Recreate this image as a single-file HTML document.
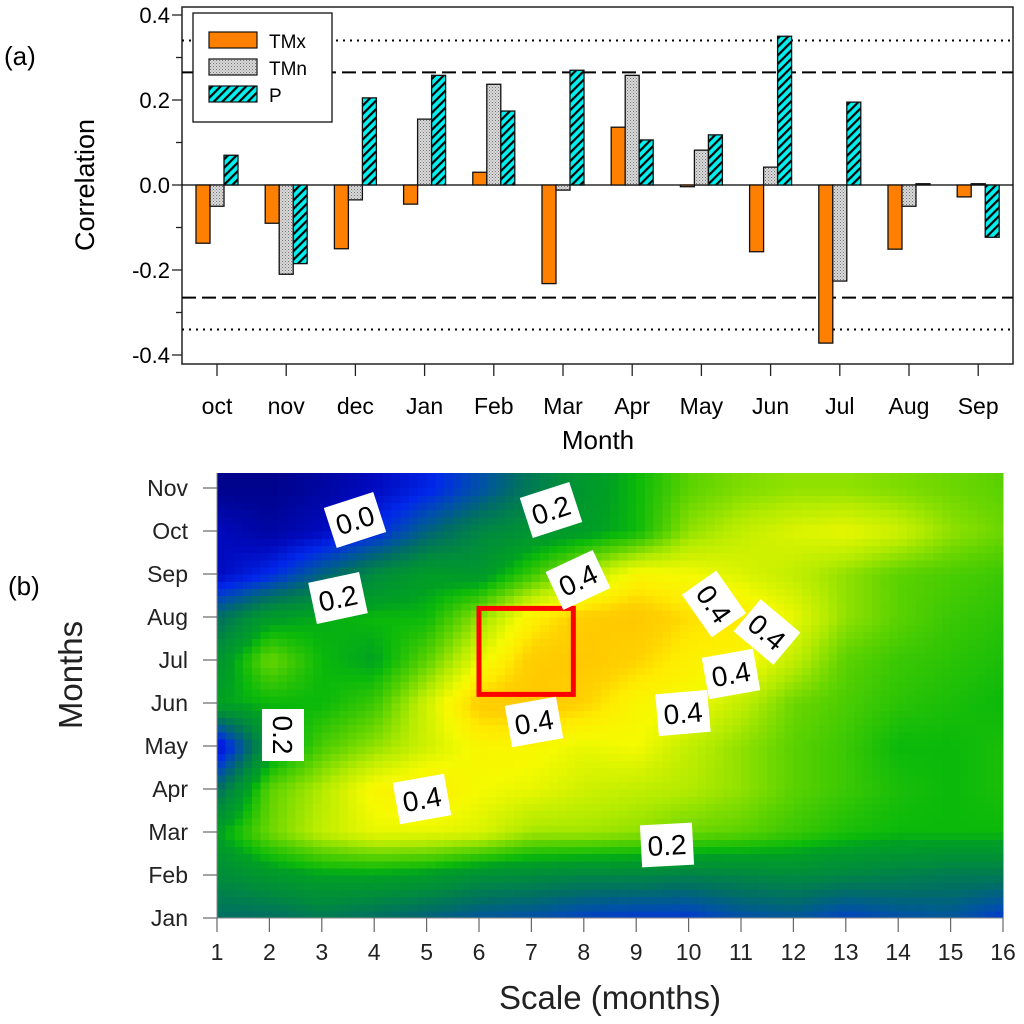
<!DOCTYPE html>
<html><head><meta charset="utf-8"><style>
html,body{margin:0;padding:0;background:#fff;}
svg{display:block;font-family:"Liberation Sans",Arial,sans-serif;}
</style></head><body>
<svg id="chart" width="1024" height="1024" viewBox="0 0 1024 1024">
<defs>
<pattern id="dots" width="3" height="3" patternUnits="userSpaceOnUse"><rect width="3" height="3" fill="#d8d8d8"/><rect width="1" height="1" fill="#777"/><rect x="1.5" y="1.5" width="1" height="1" fill="#999"/></pattern>
<pattern id="hatch" width="6" height="6" patternUnits="userSpaceOnUse" patternTransform="rotate(45)"><rect width="6" height="6" fill="#00f0f0"/><rect width="2.2" height="6" fill="#000"/></pattern>
</defs>
<g id="topChart"></g>
<g id="bottomChart"></g>
</svg>
<script>
const months = ["oct","nov","dec","Jan","Feb","Mar","Apr","May","Jun","Jul","Aug","Sep"];
const tmx = [-0.137,-0.09,-0.15,-0.045,0.03,-0.232,0.136,-0.004,-0.157,-0.372,-0.151,-0.028];
const tmn = [-0.05,-0.21,-0.035,0.155,0.237,-0.012,0.258,0.082,0.042,-0.226,-0.05,0.003];
const prc = [0.07,-0.185,0.205,0.258,0.174,0.27,0.106,0.118,0.35,0.195,0.003,-0.123];
const yTicks = [0.4,0.2,0.0,-0.2,-0.4];
const yTickLabels = ["0.4","0.2","0.0","-0.2","-0.4"];
const dashLevel = 0.265;
const dotLevel = 0.34;

const hmScales = [1,2,3,4,5,6,7,8,9,10,11,12,13,14,15,16];
const hmMonths = ["Jan","Feb","Mar","Apr","May","Jun","Jul","Aug","Sep","Oct","Nov"];
const hmJan = [0.1,0.1,0.12,0.1,0.08,0.06,0.05,0.03,0.02,0.02,0.05,0.06,0.03,0.05,0.06,0.02];
const hmFeb = [0.15,0.18,0.2,0.2,0.19,0.16,0.15,0.14,0.14,0.13,0.14,0.15,0.14,0.13,0.12,0.12];
const hmMar = [0.2,0.28,0.33,0.36,0.36,0.35,0.31,0.31,0.3,0.28,0.27,0.25,0.23,0.22,0.22,0.22];
const hmApr = [0.1,0.27,0.32,0.38,0.4,0.37,0.36,0.34,0.33,0.32,0.3,0.27,0.25,0.23,0.22,0.23];
const hmMay = [-0.05,0.18,0.26,0.3,0.34,0.38,0.38,0.36,0.37,0.33,0.3,0.27,0.25,0.22,0.22,0.23];
const hmJun = [0.2,0.22,0.22,0.25,0.34,0.43,0.44,0.42,0.38,0.37,0.33,0.28,0.26,0.24,0.23,0.22];
const hmJul = [0.17,0.28,0.22,0.2,0.27,0.36,0.43,0.44,0.42,0.39,0.38,0.33,0.27,0.25,0.24,0.23];
const hmAug = [0.1,0.19,0.21,0.22,0.22,0.3,0.39,0.43,0.44,0.41,0.4,0.36,0.3,0.27,0.25,0.24];
const hmSep = [-0.05,0.0,0.08,0.15,0.19,0.18,0.25,0.32,0.38,0.37,0.35,0.33,0.3,0.27,0.26,0.25];
const hmOct = [-0.05,-0.08,-0.05,0.0,0.08,0.14,0.17,0.19,0.22,0.3,0.33,0.35,0.36,0.34,0.3,0.28];
const hmNov = [-0.1,-0.1,-0.08,-0.05,-0.01,0.05,0.12,0.18,0.22,0.27,0.29,0.3,0.3,0.29,0.28,0.27];
const boxScale = [6,7.8];
const boxMonth = [5.2,7.2];

const NS="http://www.w3.org/2000/svg";
function mk(p,tag,attrs,txt){const e=document.createElementNS(NS,tag);for(const k in attrs)e.setAttribute(k,attrs[k]);if(txt!==undefined)e.textContent=txt;p.appendChild(e);return e;}

// ---- top chart
const topG=document.getElementById('topChart');
const L=182,R=1013,T=7,B=364;
const yA=v=>185-v*425;
const xA=i=>217+i*69.2;
const bw=14;
let e;
e=mk(topG,'rect',{x:L,y:T,width:R-L,height:B-T,fill:'#fff',stroke:'#222','stroke-width':1.5});


[dashLevel,-dashLevel].forEach(v=>{e=mk(topG,'line',{x1:L,x2:R,y1:yA(v),y2:yA(v),stroke:'#000','stroke-width':2,'stroke-dasharray':'14,6'});

});
[dotLevel,-dotLevel].forEach(v=>{e=mk(topG,'line',{x1:L,x2:R,y1:yA(v),y2:yA(v),stroke:'#000','stroke-width':2,'stroke-dasharray':'2,5'});

});
e=mk(topG,'line',{x1:L,x2:R,y1:yA(0),y2:yA(0),stroke:'#000','stroke-width':1.2});


const series=[[tmx,'#ff8000',-21,'tmx'],[tmn,'url(#dots)',-7,'tmn'],[prc,'url(#hatch)',7,'p']];
series.forEach(s=>{s[0].forEach((v,i)=>{const y0=yA(0),y1=yA(v);
e=mk(topG,'rect',{x:xA(i)+s[2],y:Math.min(y0,y1),width:bw,height:Math.max(1,Math.abs(y1-y0)),fill:s[1],stroke:'#111','stroke-width':1.3});

});});
yTicks.forEach((v,i)=>{mk(topG,'line',{x1:L-10,x2:L,y1:yA(v),y2:yA(v),stroke:'#222','stroke-width':1.3});
e=mk(topG,'text',{x:L-12,y:yA(v)+8,'text-anchor':'end','font-size':22},yTickLabels[i]);

});
[0.3,0.1,-0.1,-0.3].forEach(v=>mk(topG,'line',{x1:L-6,x2:L,y1:yA(v),y2:yA(v),stroke:'#222','stroke-width':1.3}));
months.forEach((m,i)=>{mk(topG,'line',{x1:xA(i),x2:xA(i),y1:B,y2:B+12,stroke:'#222','stroke-width':1.3});
e=mk(topG,'text',{x:xA(i),y:414,'text-anchor':'middle','font-size':23},m);

});
e=mk(topG,'text',{x:598,y:449,'text-anchor':'middle','font-size':26},'Month');


e=mk(topG,'text',{x:0,y:0,'text-anchor':'middle','font-size':27,transform:'translate(94,185) rotate(-90)'},'Correlation');


e=mk(topG,'text',{x:4,y:65,'font-size':26},'(a)');


const lg=mk(topG,'g',{});


mk(lg,'rect',{x:193,y:13,width:139,height:109,fill:'#fff',stroke:'#111','stroke-width':1.3});
[['TMx','#ff8000'],['TMn','url(#dots)'],['P','url(#hatch)']].forEach((l,i)=>{const y=32+i*27;
mk(lg,'rect',{x:209,y:y,width:48,height:16,fill:l[1],stroke:'#111','stroke-width':1.2});
e=mk(lg,'text',{x:269,y:y+16,'font-size':19},l[0]);

});

// ---- heatmap
const botG=document.getElementById('bottomChart');
const HL=217,HR=1003,HT=473,HB=918;
const xs=s=>HL+(s-1)*(HR-HL)/15;
const ym=m=>HB-m*43;
const grid=[hmJan,hmFeb,hmMar,hmApr,hmMay,hmJun,hmJul,hmAug,hmSep,hmOct,hmNov];
const stops=[[-0.12,[0,0,120]],[-0.05,[0,10,190]],[0.0,[0,40,235]],[0.05,[0,80,170]],[0.1,[0,110,100]],[0.15,[0,140,60]],[0.2,[0,160,35]],[0.22,[10,185,10]],[0.27,[90,210,0]],[0.32,[180,235,0]],[0.37,[245,250,0]],[0.4,[255,235,0]],[0.42,[255,210,0]],[0.47,[255,185,0]]];
function col(v){if(v<=stops[0][0])return 'rgb('+stops[0][1]+')';for(let i=1;i<stops.length;i++){if(v<=stops[i][0]){const a=stops[i-1],b=stops[i],t=(v-a[0])/(b[0]-a[0]);return 'rgb('+a[1].map((c,k)=>Math.round(c+(b[1][k]-c)*t)).join(',')+')';}}return 'rgb('+stops[stops.length-1][1]+')';}
function val(s,m){const nx=grid[0].length-1,ny=grid.length-1;let fx=Math.min(Math.max(s-1,0),nx),fy=Math.min(Math.max(m,0),ny);const i=Math.min(Math.floor(fx),nx-1),j=Math.min(Math.floor(fy),ny-1);const tx=fx-i,ty=fy-j;
return grid[j][i]*(1-tx)*(1-ty)+grid[j][i+1]*tx*(1-ty)+grid[j+1][i]*(1-tx)*ty+grid[j+1][i+1]*tx*ty;}
const sub=6;
const topM=(HB-HT)/43;
const cg=mk(botG,'g',{'shape-rendering':'crispEdges'});


for(let a=0;a<15*sub;a++){for(let b=0;b<Math.ceil(topM*sub);b++){const s0=1+a/sub,m0=b/sub;const v=val(s0+0.5/sub,m0+0.5/sub);
const x0=xs(s0),x1=xs(s0+1/sub),y0=ym(m0),y1=Math.max(HT,ym(m0+1/sub));
e=mk(cg,'rect',{x:x0.toFixed(2),y:y1.toFixed(2),width:(x1-x0+0.6).toFixed(2),height:(y0-y1+0.6).toFixed(2),fill:col(v)});

}}
e=mk(botG,'rect',{x:xs(boxScale[0]),y:ym(boxMonth[1]),width:xs(boxScale[1])-xs(boxScale[0]),height:ym(boxMonth[0])-ym(boxMonth[1]),fill:'none',stroke:'#ff0000','stroke-width':5});


const labels=[[355,520,-18,'0.0'],[551,510,-18,'0.2'],[338,598,-12,'0.2'],[578,580,-25,'0.4'],[714,604,55,'0.4'],[767,632,40,'0.4'],[731,674,-10,'0.4'],[683,713,-5,'0.4'],[534,722,-10,'0.4'],[283,735,90,'0.2'],[422,799,-10,'0.4'],[667,845,-3,'0.2']];
labels.forEach(l=>{const g=mk(botG,'g',{transform:'translate('+l[0]+','+l[1]+') rotate('+l[2]+')'});


mk(g,'rect',{x:-26,y:-21,width:52,height:42,fill:'#fff'});
mk(g,'text',{x:0,y:10,'text-anchor':'middle','font-size':28},l[3]);});
mk(botG,'line',{x1:HL,x2:HL,y1:HT,y2:HB,stroke:'#888','stroke-width':1});
mk(botG,'line',{x1:HL,x2:HR,y1:HB,y2:HB,stroke:'#888','stroke-width':1});
hmMonths.forEach((m,i)=>{mk(botG,'line',{x1:203,x2:HL,y1:ym(i),y2:ym(i),stroke:'#666','stroke-width':1.2});
e=mk(botG,'text',{x:188,y:ym(i)+8,'text-anchor':'end','font-size':23,fill:'#222'},m);

});
hmScales.forEach(s=>{mk(botG,'line',{x1:xs(s),x2:xs(s),y1:HB,y2:HB+14,stroke:'#666','stroke-width':1.2});
e=mk(botG,'text',{x:xs(s),y:960,'text-anchor':'middle','font-size':23,fill:'#222'},String(s));

});
e=mk(botG,'text',{x:610,y:1009,'text-anchor':'middle','font-size':33,fill:'#222'},'Scale (months)');


e=mk(botG,'text',{x:0,y:0,'text-anchor':'middle','font-size':33,fill:'#222',transform:'translate(82,675) rotate(-90)'},'Months');


e=mk(botG,'text',{x:8,y:595,'font-size':26},'(b)');


</script>
</body></html>
